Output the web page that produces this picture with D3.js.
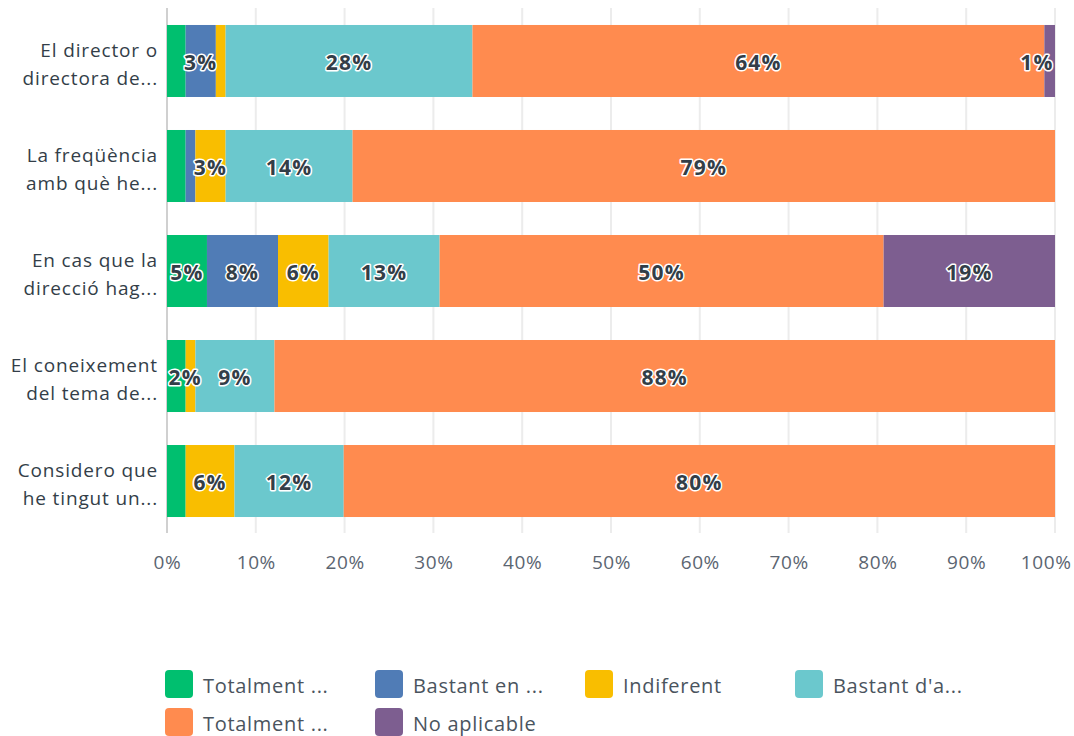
<!DOCTYPE html>
<html><head><meta charset="utf-8">
<script src="https://cdn.jsdelivr.net/npm/d3@7"></script>
<style>body{margin:0;background:#fff}svg{display:block}</style>
</head><body>
<svg id="c" width="1074" height="736"></svg>
<script>
// ---- data ----
const categories = [
  ["El director o", "directora de..."],
  ["La freqüència", "amb què he..."],
  ["En cas que la", "direcció hag..."],
  ["El coneixement", "del tema de..."],
  ["Considero que", "he tingut un..."]
];
const seriesNames = ["Totalment ...", "Bastant en ...", "Indiferent", "Bastant d'a...", "Totalment ...", "No aplicable"];
const seriesColors = ["#00BF6F", "#507CB6", "#F9BE00", "#6BC8CD", "#FF8B4F", "#7D5E90"];
const totalmentDesacord = [2.1, 2.1, 4.5, 2.1, 2.1];
const bastantDesacord   = [3.4, 1.1, 8.0, 0, 0];
const indiferent        = [1.1, 3.4, 5.7, 1.1, 5.5];
const bastantAcord      = [27.8, 14.3, 12.5, 8.9, 12.3];
const totalmentAcord    = [64.4, 79.1, 50.0, 87.9, 80.1];
const noAplicable       = [1.2, 0, 19.3, 0, 0];
const xTicks = [0, 10, 20, 30, 40, 50, 60, 70, 80, 90, 100];

const series = [totalmentDesacord, bastantDesacord, indiferent, bastantAcord, totalmentAcord, noAplicable];

// ---- layout ----
const svg = d3.select("#c");
const x = d3.scaleLinear().domain([0, 100]).range([167, 1055]);
const y = d3.scaleBand().domain(d3.range(categories.length)).range([8.5, 533.5])
  .paddingInner(0.3143).paddingOuter(0.157);

const font = "'Open Sans', Roboto, sans-serif";

// gridlines
const grid = svg.append("g");
grid.selectAll("line").data(xTicks).join("line")
  .attr("x1", d => x(d)).attr("x2", d => x(d))
  .attr("y1", 8).attr("y2", 533)
  .attr("stroke", d => d === 0 ? "#d0d0d0" : "#ececec").attr("stroke-width", 2);

// x axis (tick labels only)
const xAxis = d3.axisBottom(x).tickValues(xTicks).tickFormat(d => d + "%").tickSize(0).tickPadding(0);
const ax = svg.append("g").attr("transform", "translate(0,555)").call(xAxis);
ax.select(".domain").remove();
ax.selectAll("text").attr("font-family", font).attr("font-size", 19).attr("letter-spacing", 0.6)
  .attr("fill", "#5b6571").attr("dy", "0.72em");
ax.selectAll(".tick").filter(d => d === 100).select("text")
  .attr("text-anchor", "end").attr("x", 1071 - x(100));

// y axis labels
const yl = svg.append("g");
categories.forEach((c, i) => {
  const cy = y(i) + y.bandwidth() / 2;
  const t = yl.append("text").attr("text-anchor", "end").attr("font-family", font)
    .attr("font-size", 19).attr("letter-spacing", 0.85).attr("fill", "#333e48");
  t.append("tspan").attr("x", 158).attr("y", cy - 4).text(c[0]);
  t.append("tspan").attr("x", 158).attr("y", cy + 24).text(c[1]);
});

// stacked bars
const rows = categories.map((c, i) => {
  let acc = 0;
  return series.map((s, k) => {
    const seg = { row: i, k, v: s[i], x0: acc, x1: acc + s[i] };
    acc += s[i];
    return seg;
  });
});
const bars = svg.append("g");
rows.forEach(r => {
  bars.selectAll(null).data(r.filter(d => d.v > 0)).join("rect")
    .attr("x", d => x(d.x0)).attr("width", d => x(d.x1) - x(d.x0))
    .attr("y", d => y(d.row)).attr("height", y.bandwidth())
    .attr("fill", d => seriesColors[d.k]);
});

// labels with collision avoidance
const lab = svg.append("g");
rows.forEach(r => {
  const segs = r.filter(d => d.v > 0).slice().sort((a, b) => b.v - a.v);
  const placed = [];
  segs.forEach(d => {
    const t = lab.append("text").text(Math.round(d.v) + "%")
      .attr("font-family", font).attr("font-weight", 700).attr("font-size", 21)
      .attr("letter-spacing", 1.2)
      .attr("fill", "#333e48").attr("stroke", "#fff").attr("stroke-width", 3)
      .attr("stroke-linejoin", "round").attr("paint-order", "stroke")
      .attr("text-anchor", "middle").attr("dominant-baseline", "central")
      .attr("y", y(d.row) + y.bandwidth() / 2 + 1);
    const w = t.node().getComputedTextLength() + 3;
    let cx = (x(d.x0) + x(d.x1)) / 2;
    cx = Math.max(x(0) + w / 2, Math.min(x(100) - w / 2, cx));
    const a = cx - w / 2, b = cx + w / 2;
    if (placed.some(p => a < p[1] && b > p[0])) { t.remove(); return; }
    placed.push([a, b]);
    t.attr("x", cx);
  });
});

// legend
const leg = svg.append("g");
seriesNames.forEach((n, k) => {
  const col = k % 4, row = Math.floor(k / 4);
  const lx = 165 + col * 210, ly = 670 + row * 38;
  leg.append("rect").attr("x", lx).attr("y", ly).attr("width", 28).attr("height", 28)
    .attr("rx", 4).attr("fill", seriesColors[k]);
  leg.append("text").attr("x", lx + 38).attr("y", ly + 15).attr("dominant-baseline", "central")
    .attr("font-family", font).attr("font-size", 20).attr("letter-spacing", 0.7)
    .attr("fill", "#4a545e").text(n);
});
</script>
</body></html>
